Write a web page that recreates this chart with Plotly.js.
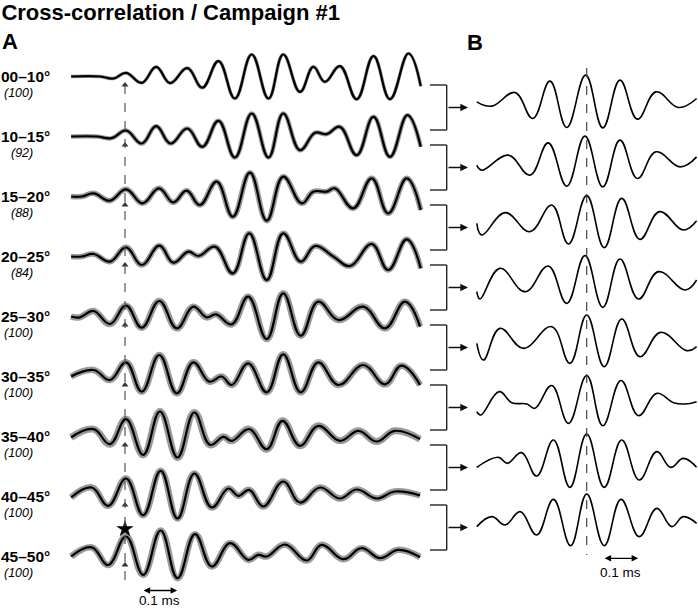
<!DOCTYPE html>
<html><head><meta charset="utf-8">
<script src="https://cdn.plot.ly/plotly-3.0.1.min.js"></script>
<style>html,body{margin:0;padding:0;background:#fff}#chart{width:698px;height:611px}</style>
</head><body><div id="chart"></div>
<script>
// ---------- DATA (time in ms relative to dashed reference line, amplitude in arbitrary units) ----------
const rowLabels = ['00–10°','10–15°','15–20°','20–25°','25–30°','30–35°','35–40°','40–45°','45–50°'];
const rowCounts = [100, 92, 88, 84, 100, 100, 100, 100, 100];
const scaleBarMs = 0.1;

// Panel A: mean cross-correlation per elevation band
const a0010_t = [-0.154,-0.071,-0.033,0.003,0.048,0.089,0.129,0.178,0.221,0.267,0.314,0.362,0.41,0.452,0.5,0.538,0.571,0.614,0.662,0.71,0.757,0.81,0.845];
const a0010_v = [0,0,-0.1,0.18,-0.317,0.48,-0.33,0.42,-0.56,0.767,-1.1,1.1,-1.1,1.1,-0.767,0.483,-0.267,0.517,-1.133,1.017,-1.133,1.15,-0.483];
const a1015_t = [-0.154,-0.081,-0.038,0.003,0.048,0.089,0.13,0.178,0.221,0.267,0.314,0.362,0.41,0.452,0.5,0.543,0.576,0.614,0.662,0.71,0.757,0.807,0.845];
const a1015_v = [0,0,-0.083,0.3,-0.35,0.517,-0.35,0.4,-0.517,0.783,-1.05,1.15,-1.05,1.15,-0.683,0.183,0.117,0.483,-0.933,0.983,-1.017,1.067,-0.517];
const a1520_t = [-0.154,-0.124,-0.09,-0.043,0.003,0.05,0.097,0.138,0.176,0.214,0.262,0.308,0.357,0.405,0.452,0.505,0.538,0.576,0.6,0.652,0.705,0.752,0.805,0.845];
const a1520_v = [0,0,0.158,-0.208,0.358,-0.342,0.408,-0.292,0.292,-0.425,0.742,-1.008,1.192,-1.208,0.992,-0.342,0.242,0.242,0.408,-0.592,0.908,-0.842,0.908,-0.675];
const a2025_t = [-0.154,-0.124,-0.09,-0.043,0.003,0.048,0.098,0.138,0.181,0.21,0.257,0.308,0.355,0.405,0.452,0.502,0.543,0.595,0.643,0.705,0.752,0.805,0.845];
const a2025_v = [0,0,0.125,-0.258,0.458,-0.425,0.542,-0.308,0.242,0.025,0.492,-0.842,1.158,-1.175,1.158,-0.258,0.525,0,-0.475,0.625,-0.675,0.858,-0.592];
const a2530_t = [-0.154,-0.129,-0.09,-0.043,0.003,0.048,0.098,0.148,0.195,0.233,0.26,0.305,0.352,0.405,0.452,0.502,0.552,0.61,0.681,0.743,0.8,0.843];
const a2530_v = [0,-0.042,0.275,-0.375,0.542,-0.558,0.775,-0.592,0.492,-0.042,0.108,-0.392,0.992,-1.125,1.158,-0.958,0.742,-0.175,0.492,-0.592,0.742,-0.508];
const a3035_t = [-0.154,-0.09,-0.043,0.003,0.048,0.098,0.148,0.195,0.241,0.276,0.305,0.352,0.405,0.452,0.502,0.552,0.61,0.681,0.743,0.79,0.843];
const a3035_v = [0,0.325,-0.175,0.708,-0.758,1.075,-0.842,0.708,-0.258,0,-0.425,0.658,-0.792,1.108,-0.792,0.708,-0.425,0.575,-0.392,0.542,-0.425];
const a3540_t = [-0.154,-0.09,-0.043,0.003,0.052,0.1,0.15,0.198,0.243,0.281,0.305,0.355,0.405,0.45,0.5,0.552,0.614,0.667,0.719,0.771,0.843];
const a3540_v = [-0.05,0.367,-0.383,0.867,-0.917,1.25,-1.05,1.2,-0.417,-0.017,-0.217,0.367,-0.633,0.783,-0.467,0.533,-0.217,0.283,-0.25,0.283,-0.133];
const a4045_t = [-0.154,-0.095,-0.048,0.003,0.052,0.102,0.15,0.198,0.248,0.295,0.324,0.355,0.395,0.452,0.5,0.557,0.614,0.662,0.719,0.771,0.843];
const a4045_v = [-0.05,0.45,-0.467,0.9,-0.933,1.283,-1.1,1.15,-0.55,0.4,0.033,0.333,-0.5,0.75,-0.3,0.45,-0.1,0.35,-0.1,0.25,0.05];
const a4550_t = [-0.154,-0.095,-0.048,0.003,0.052,0.102,0.15,0.2,0.248,0.3,0.352,0.381,0.405,0.457,0.519,0.562,0.624,0.676,0.729,0.781,0.843];
const a4550_v = [0,0.458,-0.425,1.0,-0.917,1.3,-1.083,1.117,-0.5,0.667,-0.167,0.083,0,0.6,-0.2,0.583,-0.133,0.417,-0.083,0.333,-0.033];

// Panel B: averaged pairs of neighbouring bands
const b1_t = [-0.314,-0.271,-0.205,-0.154,-0.105,-0.057,-0.003,0.046,0.095,0.145,0.198,0.262,0.314];
const b1_v = [-0.017,-0.233,0.45,-0.85,1.017,-1.3,1.317,-1.317,1.067,-0.883,0.483,-0.3,0.15];
const b2_t = [-0.314,-0.3,-0.224,-0.162,-0.11,-0.057,-0.005,0.046,0.095,0.145,0.198,0.267,0.314];
const b2_v = [-0.183,-0.433,0.317,-0.683,0.933,-1.233,1.267,-1.267,1.067,-0.85,0.483,-0.267,0.233];
const b3_t = [-0.314,-0.3,-0.233,-0.162,-0.1,-0.052,0,0.05,0.1,0.152,0.208,0.276,0.314];
const b3_v = [-0.092,-0.675,0.442,-0.508,0.825,-1.125,1.292,-1.308,1.158,-0.892,0.492,-0.425,0.042];
const b4_t = [-0.314,-0.305,-0.248,-0.176,-0.11,-0.057,-0.005,0.046,0.095,0.148,0.205,0.281,0.314];
const b4_v = [-0.508,-0.875,0.658,-0.508,0.775,-1.092,1.292,-1.292,1.125,-0.875,0.492,-0.425,0.075];
const b5_t = [-0.314,-0.295,-0.248,-0.181,-0.1,-0.048,0,0.05,0.1,0.152,0.211,0.286,0.314];
const b5_v = [-0.092,-0.925,0.658,-0.342,0.742,-1.092,1.325,-1.258,1.125,-0.758,0.458,-0.458,-0.258];
const b6_t = [-0.314,-0.303,-0.25,-0.214,-0.171,-0.148,-0.1,-0.052,0,0.046,0.098,0.148,0.2,0.248,0.281,0.314];
const b6_v = [-0.508,-0.675,0.492,-0.058,-0.125,-0.342,0.8,-1.092,1.3,-1.208,1.05,-0.708,0.408,-0.058,-0.125,-0.008];
const b7_t = [-0.314,-0.252,-0.227,-0.186,-0.143,-0.095,-0.048,0,0.05,0.1,0.15,0.2,0.24,0.276,0.314];
const b7_v = [-0.292,0.208,-0.092,0.442,-0.725,1.075,-1.292,1.375,-1.292,1.075,-0.925,0.492,-0.292,0.158,-0.292];
const b8_t = [-0.314,-0.271,-0.233,-0.19,-0.143,-0.095,-0.046,0,0.05,0.098,0.15,0.2,0.243,0.276,0.314];
const b8_v = [-0.258,0.242,-0.175,0.492,-0.675,1.108,-1.208,1.375,-1.208,1.108,-0.758,0.658,-0.258,0.242,-0.092];

// ---------- LAYOUT HELPERS ----------
const W = 698, H = 611;
const FONT = 'Liberation Sans, Arial, Helvetica, sans-serif';
const rowGap = 3;            // vertical spacing between rows in amplitude units
const bShift = -1.25;        // vertical shift of panel B rows
const pxX = p => p / W;      // paper coords from pixel
const pxY = p => 1 - p / H;

const aRows = [[a0010_t,a0010_v],[a1015_t,a1015_v],[a1520_t,a1520_v],[a2025_t,a2025_v],[a2530_t,a2530_v],
               [a3035_t,a3035_v],[a3540_t,a3540_v],[a4045_t,a4045_v],[a4550_t,a4550_v]];
const bRows = [[b1_t,b1_v],[b2_t,b2_v],[b3_t,b3_v],[b4_t,b4_v],[b5_t,b5_v],[b6_t,b6_v],[b7_t,b7_v],[b8_t,b8_v]];
const grayW = [3.5,4.5,5.5,5.5,6.5,6.5,7,6.5,6.5];

const traces = [];
aRows.forEach(([t,v],i) => {
  const off = -rowGap*i;
  const y = v.map(a => a + off);
  traces.push({x:t, y:y, mode:'lines', line:{color:'#999', width:grayW[i], shape:'spline', smoothing:1.2}, hoverinfo:'skip', xaxis:'x', yaxis:'y'});
  traces.push({x:t, y:y, mode:'lines', line:{color:'#000', width:2.2, shape:'spline', smoothing:1.2}, hoverinfo:'skip', xaxis:'x', yaxis:'y'});
});
bRows.forEach(([t,v],j) => {
  const off = bShift - rowGap*j;
  traces.push({x:t, y:v.map(a => a + off), mode:'lines', line:{color:'#000', width:1.6, shape:'spline', smoothing:1.2}, hoverinfo:'skip', xaxis:'x2', yaxis:'y'});
});
// arrowheads under the reference peak
traces.push({x:aRows.map(()=>0), y:aRows.map((r,i)=>-rowGap*i-0.42), mode:'markers',
  marker:{symbol:'triangle-up', size:6, color:'#333'}, hoverinfo:'skip', xaxis:'x', yaxis:'y'});
// star
traces.push({x:[0], y:[-rowGap*8+1.375], mode:'markers', marker:{symbol:'star', size:13, color:'#000'}, hoverinfo:'skip', xaxis:'x', yaxis:'y'});

const shapes = [];
// dashed reference lines
shapes.push({type:'line', xref:'x', yref:'y', x0:0, x1:0, y0:-0.425, y1:-25.525, line:{color:'#555', width:1.2, dash:'dash'}});
shapes.push({type:'line', xref:'x2', yref:'y', x0:0, x1:0, y0:0.425, y1:-23.925, line:{color:'#444', width:1.2, dash:'dash'}});
// brackets
const annotations = [];
for (let j = 0; j < 8; j++) {
  const top = -rowGap*j - 0.425, bot = -rowGap*(j+1) + 0.325, mid = (top+bot)/2;
  shapes.push({type:'line', xref:'paper', yref:'y', x0:pxX(430), x1:pxX(446.7), y0:top, y1:top, line:{color:'#222', width:1.4}});
  shapes.push({type:'line', xref:'paper', yref:'y', x0:pxX(430), x1:pxX(446.7), y0:bot, y1:bot, line:{color:'#222', width:1.4}});
  shapes.push({type:'line', xref:'paper', yref:'y', x0:pxX(446.7), x1:pxX(446.7), y0:top, y1:bot, line:{color:'#222', width:1.4}});
  annotations.push({xref:'paper', yref:'y', x:pxX(468), y:mid, ax:-21, ay:0, text:'', showarrow:true,
    arrowhead:2, arrowsize:1.1, arrowwidth:1.4, arrowcolor:'#111'});
}
// row labels
rowLabels.forEach((lab,i) => {
  annotations.push({xref:'paper', yref:'y', x:pxX(-1), y:-rowGap*i, xanchor:'left', yanchor:'middle', showarrow:false,
    text:'<b>'+lab+'</b>', font:{family:FONT, size:15.5, color:'#000'}});
  annotations.push({xref:'paper', yref:'y', x:pxX(35), y:-rowGap*i-0.8, xanchor:'right', yanchor:'middle', showarrow:false,
    text:'<i>('+rowCounts[i]+')</i>', font:{family:FONT, size:12.5, color:'#000'}});
});
// panel letters
annotations.push({xref:'paper', yref:'paper', x:pxX(0), y:pxY(41), xanchor:'left', yanchor:'middle', showarrow:false,
  text:'<b>A</b>', font:{family:FONT, size:22, color:'#000'}});
annotations.push({xref:'paper', yref:'paper', x:pxX(465), y:pxY(42), xanchor:'left', yanchor:'middle', showarrow:false,
  text:'<b>B</b>', font:{family:FONT, size:22, color:'#000'}});
// scale bars
const aBar0 = 0.049, bBar0 = 0.047;
annotations.push({xref:'x', yref:'y', axref:'x', ayref:'y', x:aBar0+scaleBarMs, y:-25.7, ax:aBar0, ay:-25.7, text:'',
  showarrow:true, arrowside:'end+start', arrowhead:2, arrowsize:1, arrowwidth:1.3, arrowcolor:'#000'});
annotations.push({xref:'x', yref:'y', x:aBar0+scaleBarMs/2, y:-26.22, showarrow:false, text:scaleBarMs+' ms',
  font:{family:FONT, size:13.5, color:'#000'}});
annotations.push({xref:'x2', yref:'y', axref:'x2', ayref:'y', x:bBar0+scaleBarMs, y:-24.09, ax:bBar0, ay:-24.09, text:'',
  showarrow:true, arrowside:'end+start', arrowhead:2, arrowsize:1, arrowwidth:1.3, arrowcolor:'#000'});
annotations.push({xref:'x2', yref:'y', x:bBar0+scaleBarMs/2, y:-24.8, showarrow:false, text:scaleBarMs+' ms',
  font:{family:FONT, size:13.5, color:'#000'}});

const layout = {
  width:W, height:H, margin:{l:0,r:0,t:0,b:0}, paper_bgcolor:'#fff', plot_bgcolor:'#fff', showlegend:false,
  title:{text:'<b>Cross-correlation / Campaign #1</b>', x:0.002, xanchor:'left', xref:'paper', y:pxY(12), yanchor:'middle',
    font:{family:FONT, size:22, color:'#000'}},
  xaxis:{domain:[0,1], range:[-125/350, (W-125)/350], visible:false, fixedrange:true},
  xaxis2:{domain:[0,1], range:[-586.7/350, (W-586.7)/350], overlaying:'x', anchor:'y', visible:false, fixedrange:true},
  yaxis:{domain:[0,1], range:[(76.5-H)/20, 76.5/20], visible:false, fixedrange:true},
  shapes:shapes, annotations:annotations
};
Plotly.newPlot('chart', traces, layout, {displayModeBar:false, staticPlot:true});
</script></body></html>
